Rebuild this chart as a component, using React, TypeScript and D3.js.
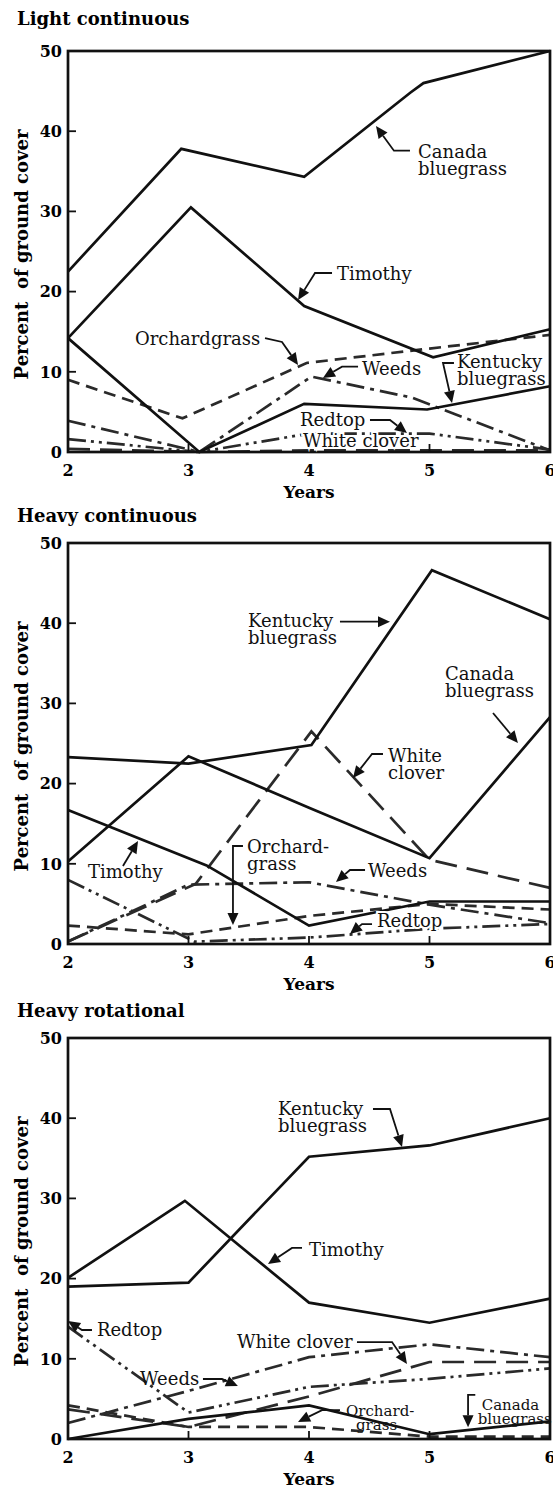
import React from 'react';
import * as d3 from 'd3';

const W = 553;
const H = 1489;
const plotLeft = 68;
const plotRight = 550;
const plotHeight = 401;

const yearTicks = [2, 3, 4, 5, 6];
const valueTicks = [0, 10, 20, 30, 40, 50];
const stdYears = [2, 3, 4, 5, 6];

// Light continuous
const lcCanadaYrs = [2, 2.94, 3.96, 4.84, 4.95, 6];
const lcCanada = [22.5, 37.8, 34.3, 44.8, 46.0, 50.0];
const lcTimothyYrs = [2, 3.02, 3.96, 5.03, 6];
const lcTimothy = [14.2, 30.5, 18.2, 11.8, 15.3];
const lcKentuckyYrs = [2, 3.09, 3.96, 4.98, 6];
const lcKentucky = [14.2, 0, 6.0, 5.3, 8.2];
const lcOrchardYrs = [2, 2.95, 3.98, 5, 6];
const lcOrchard = [9.0, 4.2, 11.1, 12.9, 14.6];
const lcWeedsYrs = [2, 3.09, 4.02, 4.85, 6];
const lcWeeds = [3.9, 0, 9.4, 6.8, 0.2];
const lcRedtopYrs = [2, 3.09, 4, 5, 6];
const lcRedtop = [1.6, 0, 2.3, 2.3, 0.3];
const lcCloverYrs = [2, 3.09, 4, 5, 6];
const lcClover = [0.4, 0, 0.2, 0.2, 0.2];

// Heavy continuous
const hcKentuckyYrs = [2, 3, 4.02, 5.02, 6];
const hcKentucky = [23.3, 22.5, 24.8, 46.6, 40.5];
const hcCanadaYrs = [2, 3, 4, 5, 6];
const hcCanada = [10.3, 23.4, 17.0, 10.7, 28.3];
const hcTimothyYrs = [2, 3.15, 4, 5, 6];
const hcTimothy = [16.7, 9.8, 2.3, 5.3, 5.3];
const hcCloverYrs = [2, 3.06, 4.02, 5, 6];
const hcClover = [0.3, 7.5, 26.5, 10.5, 7.0];
const hcWeeds = [0.3, 7.4, 7.7, 4.9, 2.6];
const hcOrchard = [2.3, 1.2, 3.5, 5.0, 4.3];
const hcRedtopYrs = [2, 3.05, 4, 5, 6];
const hcRedtop = [8.0, 0.3, 0.8, 1.9, 2.5];

// Heavy rotational
const hrKentucky = [19.0, 19.5, 35.2, 36.6, 40.0];
const hrTimothyYrs = [2, 2.97, 4, 5, 6];
const hrTimothy = [20.1, 29.7, 17.0, 14.5, 17.5];
const hrRedtop = [14.0, 3.3, 6.5, 7.5, 8.8];
const hrClover = [3.7, 1.5, 5.3, 9.6, 9.6];
const hrWeeds = [2.0, 6.0, 10.2, 11.8, 10.2];
const hrOrchard = [4.2, 1.5, 1.5, 0.3, 0.3];
const hrCanada = [0, 2.5, 4.2, 0.6, 2.2];

const dashes: Record<string, string | undefined> = {
  Canada: undefined,
  Timothy: undefined,
  Kentucky: undefined,
  Orchard: '12,7',
  Clover: '22,10',
  Weeds: '18,6,4,6',
  Redtop: '18,5,3,5,3,5',
};

type Series = { kind: string; xs: number[]; ys: number[] };
type Note = {
  lines: string[];
  at: [number, number];
  arrow?: [number, number][];
  indent?: number[];
  halo?: boolean;
  size?: number;
};

const s = (kind: string, xs: number[], ys: number[]): Series => ({ kind, xs, ys });

const lightSeries = [
  s('Clover', lcCloverYrs, lcClover),
  s('Redtop', lcRedtopYrs, lcRedtop),
  s('Weeds', lcWeedsYrs, lcWeeds),
  s('Orchard', lcOrchardYrs, lcOrchard),
  s('Kentucky', lcKentuckyYrs, lcKentucky),
  s('Timothy', lcTimothyYrs, lcTimothy),
  s('Canada', lcCanadaYrs, lcCanada),
];
const heavySeries = [
  s('Redtop', hcRedtopYrs, hcRedtop),
  s('Orchard', stdYears, hcOrchard),
  s('Weeds', stdYears, hcWeeds),
  s('Clover', hcCloverYrs, hcClover),
  s('Timothy', hcTimothyYrs, hcTimothy),
  s('Canada', hcCanadaYrs, hcCanada),
  s('Kentucky', hcKentuckyYrs, hcKentucky),
];
const rotSeries = [
  s('Orchard', stdYears, hrOrchard),
  s('Redtop', stdYears, hrRedtop),
  s('Clover', stdYears, hrClover),
  s('Weeds', stdYears, hrWeeds),
  s('Canada', stdYears, hrCanada),
  s('Timothy', hrTimothyYrs, hrTimothy),
  s('Kentucky', stdYears, hrKentucky),
];

// label positions in data units (year, percent)
const lightNotes: Note[] = [
  { lines: ['Canada', 'bluegrass'], at: [4.905, 36.6], arrow: [[4.838, 37.57], [4.705, 37.57], [4.556, 40.65]] },
  { lines: ['Timothy'], at: [4.232, 21.45], arrow: [[4.191, 22.32], [4.05, 22.32], [3.909, 18.95]] },
  { lines: ['Orchardgrass'], at: [2.556, 13.34], arrow: [[3.635, 14.21], [3.776, 13.72], [3.909, 10.85]] },
  { lines: ['Weeds'], at: [4.44, 9.6], arrow: [[4.407, 10.64], [4.274, 10.64], [4.116, 9.23]] },
  { lines: ['Kentucky', 'bluegrass'], at: [5.228, 10.51], arrow: [[5.203, 11.1], [5.112, 11.1], [5.187, 6.11]] },
  { lines: ['Redtop'], at: [3.925, 3.24], arrow: [[4.506, 3.99], [4.672, 3.99], [4.813, 2.37]] },
  { lines: ['White clover'], at: [3.95, 0.66], halo: true },
];
const heavyNotes: Note[] = [
  { lines: ['Kentucky', 'bluegrass'], at: [3.494, 39.56], arrow: [[4.257, 40.19], [4.672, 40.19]] },
  { lines: ['Canada', 'bluegrass'], at: [5.129, 32.92], arrow: [[5.527, 28.8], [5.734, 25.06]] },
  { lines: ['White', 'clover'], at: [4.656, 22.73], arrow: [[4.614, 23.69], [4.523, 23.69], [4.365, 20.7]] },
  { lines: ['Orchard-', 'grass'], at: [3.486, 11.35], arrow: [[3.452, 12.22], [3.369, 12.22], [3.369, 2.37]] },
  { lines: ['Weeds'], at: [4.49, 8.39], arrow: [[4.465, 9.23], [4.34, 9.23], [4.224, 7.73]] },
  { lines: ['Timothy'], at: [2.166, 8.23], arrow: [[2.456, 9.73], [2.581, 12.84]] },
  { lines: ['Redtop'], at: [4.564, 2.12], arrow: [[4.523, 2.49], [4.44, 2.49], [4.34, 1.25]], halo: true },
];
const rotNotes: Note[] = [
  { lines: ['Kentucky', 'bluegrass'], at: [3.743, 40.4], arrow: [[4.531, 41.15], [4.672, 41.15], [4.772, 36.41]] },
  { lines: ['Timothy'], at: [4.0, 22.86], arrow: [[3.942, 23.82], [3.859, 23.82], [3.66, 21.82]] },
  { lines: ['Redtop'], at: [2.24, 12.84], arrow: [[2.199, 13.59], [2.116, 13.59], [2.0, 14.71]] },
  { lines: ['White clover'], at: [3.402, 11.35], arrow: [[4.398, 12.09], [4.689, 12.09], [4.813, 9.35]] },
  { lines: ['Weeds'], at: [2.598, 6.73], arrow: [[3.12, 7.48], [3.278, 7.48], [3.41, 6.61]] },
  { lines: ['Orchard-', 'grass'], at: [4.307, 2.9], indent: [0, 10], size: 15, arrow: [[4.257, 3.6], [4.108, 3.6], [3.909, 2.12]] },
  { lines: ['Canada', 'bluegrass'], at: [5.4, 3.6], indent: [4, 0], size: 15, arrow: [[5.38, 5.49], [5.32, 5.49], [5.32, 1.45]] },
];

const serif = '"DejaVu Serif", serif';

function Arrow({ pts }: { pts: [number, number][] }) {
  const [x1, y1] = pts[pts.length - 2];
  const [x2, y2] = pts[pts.length - 1];
  const len = Math.hypot(x2 - x1, y2 - y1);
  const ux = (x2 - x1) / len;
  const uy = (y2 - y1) / len;
  const L = 12;
  const hw = 5.5;
  const bx = x2 - ux * L;
  const by = y2 - uy * L;
  const shaft = pts.slice(0, -1).concat([[bx, by]]);
  return (
    <g>
      <path d={d3.line()(shaft) || ''} fill="none" stroke="#111" strokeWidth={1.8} />
      <path
        d={`M${x2},${y2}L${bx - uy * hw},${by + ux * hw}L${bx + uy * hw},${by - ux * hw}Z`}
        fill="#111"
      />
    </g>
  );
}

function Panel({ top, titleY, title, series, notes }: {
  top: number; titleY: number; title: string; series: Series[]; notes: Note[];
}) {
  const bottom = top + plotHeight;
  const x = d3.scaleLinear().domain([2, 6]).range([plotLeft, plotRight]);
  const y = d3.scaleLinear().domain([0, 50]).range([bottom, top]);

  return (
    <g>
      <text x={17} y={titleY} fontFamily={serif} fontWeight="bold" fontSize={18}>{title}</text>

      {series.map((sr, i) => {
        const pts = sr.xs.map((v, j) => [x(v), y(sr.ys[j])] as [number, number]);
        const dash = dashes[sr.kind];
        return (
          <path
            key={i}
            d={d3.line()(pts) || ''}
            fill="none"
            stroke={dash ? '#2a2a2a' : '#111'}
            strokeWidth={2.7}
            strokeDasharray={dash}
            strokeLinejoin="miter"
          />
        );
      })}

      <rect x={plotLeft} y={top} width={plotRight - plotLeft} height={plotHeight}
        fill="none" stroke="#111" strokeWidth={2.7} />

      {valueTicks.map(v => (
        <g key={'y' + v}>
          {v > 0 && v < 50 && (
            <line x1={plotLeft} x2={plotLeft + 8} y1={y(v)} y2={y(v)} stroke="#111" strokeWidth={1.8} />
          )}
          <text x={62} y={y(v)} dy="0.36em" textAnchor="end" fontFamily={serif}
            fontWeight="bold" fontSize={16}>{v}</text>
        </g>
      ))}
      {yearTicks.map(v => (
        <g key={'x' + v}>
          {v > 2 && v < 6 && (
            <line x1={x(v)} x2={x(v)} y1={bottom} y2={bottom - 8} stroke="#111" strokeWidth={1.8} />
          )}
          <text x={x(v)} y={bottom + 24} textAnchor="middle" fontFamily={serif}
            fontWeight="bold" fontSize={16}>{v}</text>
        </g>
      ))}
      <text x={x(4)} y={bottom + 46} textAnchor="middle" fontFamily={serif}
        fontWeight="bold" fontSize={17}>Years</text>
      <text transform={`translate(28,${(top + bottom) / 2 + 3}) rotate(-90)`} textAnchor="middle"
        fontFamily={serif} fontWeight="bold" fontSize={18} xmlSpace="preserve">
        Percent  of ground cover
      </text>

      {notes.map((n, i) => {
        const fs = n.size || 18;
        const gap = fs < 16 ? 14 : 17;
        return (
          <g key={'n' + i}>
            {n.arrow && <Arrow pts={n.arrow.map(p => [x(p[0]), y(p[1])] as [number, number])} />}
            {n.lines.map((t, j) => (
              <text
                key={j}
                x={x(n.at[0]) + (n.indent ? n.indent[j] : 0)}
                y={y(n.at[1]) + j * gap}
                fontFamily={serif}
                fontSize={fs}
                fill="#111"
                stroke={n.halo ? '#fff' : undefined}
                strokeWidth={n.halo ? 4 : undefined}
                paintOrder="stroke"
              >{t}</text>
            ))}
          </g>
        );
      })}
    </g>
  );
}

export default function App() {
  return (
    <svg width={W} height={H} style={{ position: 'absolute', left: 0, top: 0, background: '#fff' }}>
      <Panel top={51} titleY={25} title="Light continuous" series={lightSeries} notes={lightNotes} />
      <Panel top={543} titleY={522} title="Heavy continuous" series={heavySeries} notes={heavyNotes} />
      <Panel top={1038} titleY={1017} title="Heavy rotational" series={rotSeries} notes={rotNotes} />
    </svg>
  );
}
